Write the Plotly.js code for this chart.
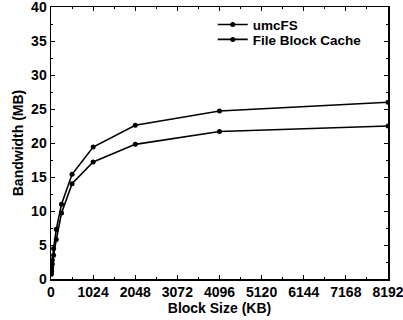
<!DOCTYPE html>
<html><head><meta charset="utf-8">
<script src="https://cdn.plot.ly/plotly-3.0.1.min.js"></script>
<style>html,body{margin:0;padding:0;background:#fff}#c{width:403px;height:320px}</style>
</head><body><div id="c"></div>
<script>
const blockSizes = [8, 16, 32, 64, 128, 256, 512, 1024, 2048, 4096, 8192];
const umcFS = [1.0, 1.7, 2.8, 4.5, 7.3, 11.0, 15.4, 19.4, 22.6, 24.7, 26.0];
const fileBlockCache = [0.7, 1.2, 2.2, 3.5, 5.8, 9.7, 14.0, 17.2, 19.8, 21.7, 22.5];
const seriesNames = ["umcFS", "File Block Cache"];
const xTicks = [0, 1024, 2048, 3072, 4096, 5120, 6144, 7168, 8192];

const fnt = {family: "Liberation Sans, Arial, sans-serif", size: 14, color: "#000", weight: "bold"};
const lfnt = {family: "Liberation Sans, Arial, sans-serif", size: 13.5, color: "#000", weight: "bold"};
const mk = (y, name, lg) => ({
  x: blockSizes, y: y, name: name, type: "scatter", mode: "lines+markers", legend: lg,
  line: {color: "#000", width: 1.6}, marker: {color: "#000", size: 5}
});
const axisCommon = {
  showgrid: false, zeroline: false, showline: true, mirror: "ticks",
  linecolor: "#000", linewidth: 1.5, ticks: "inside", ticklen: 4, tickcolor: "#000",
  tickfont: fnt, ticklabeloverflow: "allow"
};
const lgBase = {xanchor: "left", yanchor: "middle", font: lfnt, bgcolor: "rgba(0,0,0,0)"};
Plotly.newPlot("c", [mk(umcFS, seriesNames[0], "legend"), mk(fileBlockCache, seriesNames[1], "legend2")], {
  width: 403, height: 320,
  margin: {l: 51, r: 15, t: 7, b: 41},
  paper_bgcolor: "#fff", plot_bgcolor: "#fff",
  showlegend: true,
  legend: Object.assign({}, lgBase, {x: 0.48, y: 0.935}),
  legend2: Object.assign({}, lgBase, {x: 0.48, y: 0.88}),
  xaxis: Object.assign({}, axisCommon, {
    range: [0, 8192], tickvals: xTicks, ticktext: xTicks.map(String),
    minor: {dtick: 512, ticks: "inside", ticklen: 2, tickcolor: "#000"},
    title: {text: "Block Size (KB)", font: fnt, standoff: 0}
  }),
  yaxis: Object.assign({}, axisCommon, {
    range: [0, 40], dtick: 5,
    minor: {dtick: 2.5, ticks: "inside", ticklen: 2, tickcolor: "#000"},
    title: {text: "Bandwidth (MB)", font: fnt, standoff: 4}
  })
}, {displayModeBar: false, staticPlot: true});
</script></body></html>
